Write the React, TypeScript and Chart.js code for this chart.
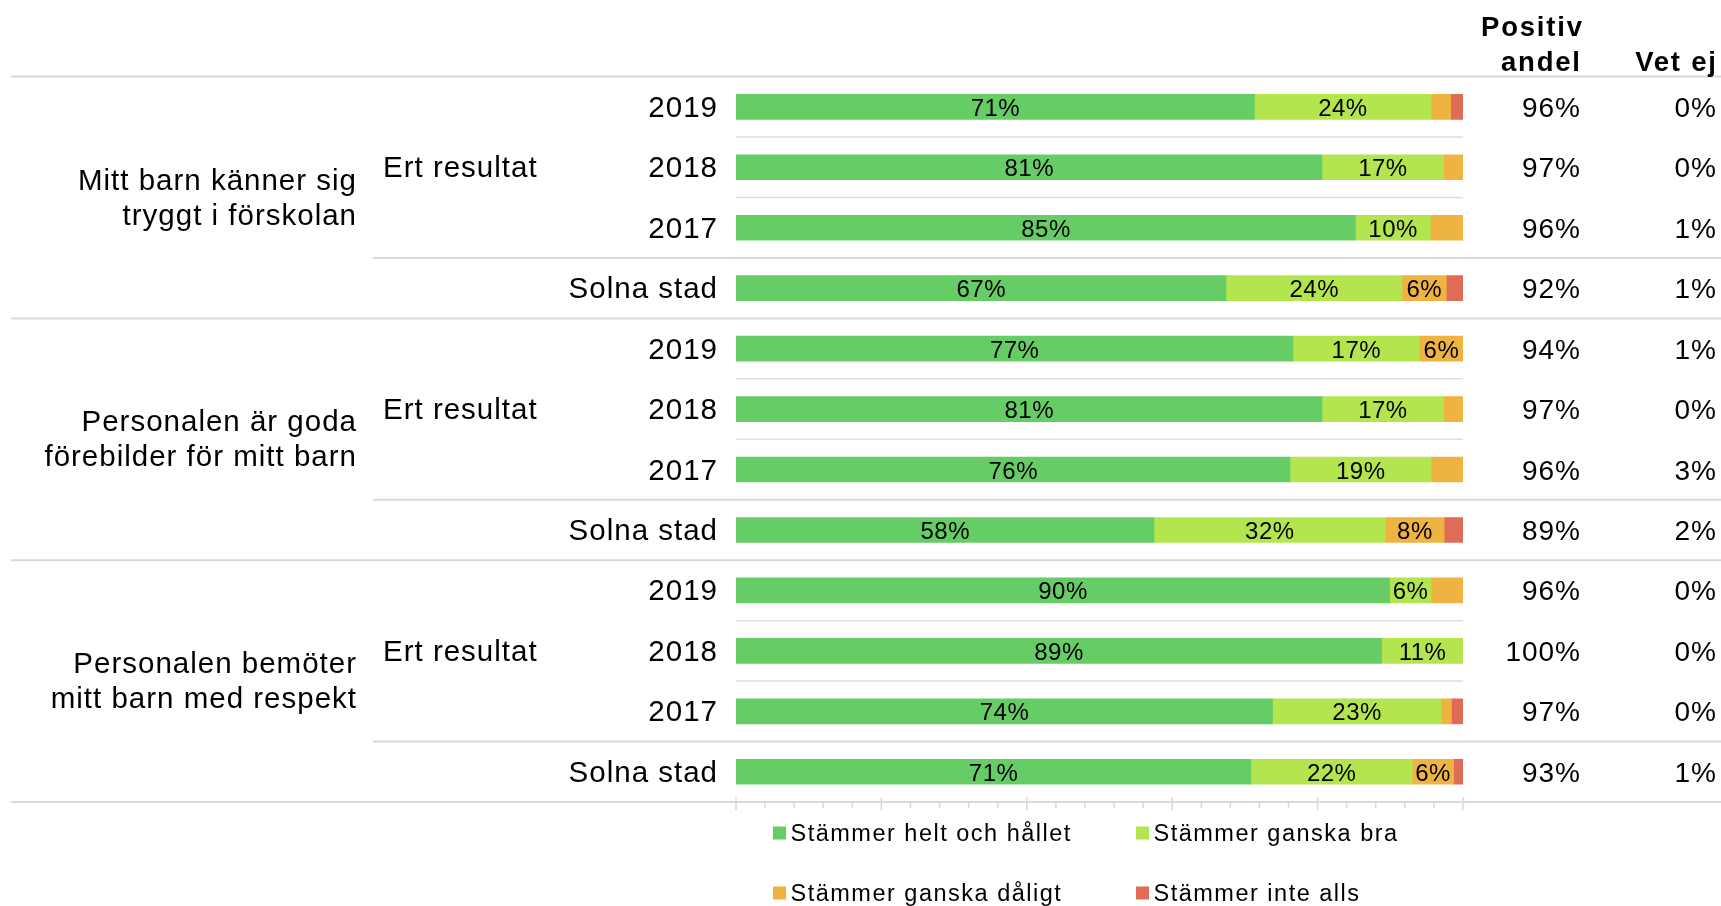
import React, { useEffect, useRef } from "react";
import { Chart, registerables } from "chart.js";

Chart.register(...registerables);

// ---------- data ----------
const rowLabels = [
  "2019", "2018", "2017", "Solna stad",
  "2019", "2018", "2017", "Solna stad",
  "2019", "2018", "2017", "Solna stad",
];
const groupLabels = [
  ["Mitt barn känner sig", "tryggt i förskolan"],
  ["Personalen är goda", "förebilder för mitt barn"],
  ["Personalen bemöter", "mitt barn med respekt"],
];
const subgroupLabel = "Ert resultat";
const seriesNames = [
  "Stämmer helt och hållet",
  "Stämmer ganska bra",
  "Stämmer ganska dåligt",
  "Stämmer inte alls",
];
const seriesColors = ["#66CC66", "#B3E64E", "#EFB342", "#E06C58"];

const heltOchHallet = [71.3, 80.6, 85.2, 67.4, 76.6, 80.6, 76.2, 57.5, 89.9, 88.8, 73.8, 70.8];
const ganskaBra = [24.3, 16.7, 10.3, 24.2, 17.4, 16.7, 19.4, 31.8, 5.7, 11.2, 23.2, 22.2];
const ganskaDaligt = [2.7, 2.7, 4.5, 6.1, 6.0, 2.7, 4.4, 8.1, 4.4, 0, 1.4, 5.7];
const inteAlls = [1.7, 0, 0, 2.3, 0, 0, 0, 2.6, 0, 0, 1.6, 1.3];

const positivAndel = ["96%", "97%", "96%", "92%", "94%", "97%", "96%", "89%", "96%", "100%", "97%", "93%"];
const vetEj = ["0%", "0%", "1%", "1%", "1%", "0%", "3%", "2%", "0%", "0%", "0%", "1%"];

const headerPositiv = ["Positiv", "andel"];
const headerVetEj = "Vet ej";
const xTickValues = Array.from({ length: 26 }, (_, i) => i * 4);

// ---------- helpers ----------
const FONT = '"Liberation Sans", Arial, Helvetica, sans-serif';

function drawText(
  ctx: CanvasRenderingContext2D,
  s: string,
  x: number,
  y: number,
  font: string,
  align: CanvasTextAlign,
  spacing: number,
  color = "#000"
) {
  ctx.save();
  ctx.font = font;
  ctx.textAlign = align;
  ctx.textBaseline = "alphabetic";
  ctx.fillStyle = color;
  (ctx as any).letterSpacing = spacing + "px";
  let dx = 0;
  if (align === "right") dx = spacing;
  else if (align === "center") dx = spacing / 2;
  ctx.fillText(s, x + dx, y);
  ctx.restore();
}

function hLine(ctx: CanvasRenderingContext2D, x1: number, x2: number, y: number, w: number, c: string) {
  ctx.save();
  ctx.strokeStyle = c;
  ctx.lineWidth = w;
  ctx.beginPath();
  ctx.moveTo(x1, y);
  ctx.lineTo(x2, y);
  ctx.stroke();
  ctx.restore();
}

const tablePlugin = {
  id: "tablePlugin",
  beforeDatasetsDraw(chart: any) {
    const ctx: CanvasRenderingContext2D = chart.ctx;
    const { top, bottom, left, right } = chart.chartArea;
    const y = chart.scales.y;
    const x = chart.scales.x;
    const W = chart.width;
    const n = rowLabels.length;
    const boundary = (k: number) => {
      if (k === 0) return top;
      if (k === n) return bottom;
      return (y.getPixelForValue(k - 1) + y.getPixelForValue(k)) / 2;
    };
    for (let k = 0; k <= n; k++) {
      const by = boundary(k);
      const m = k % 4;
      if (m === 0) hLine(ctx, 11, W, by, 2, "#D9D9D9");
      else if (m === 3) hLine(ctx, 373, W, by, 2, "#D9D9D9");
      else hLine(ctx, left, right, by, 1.5, "#DEDEDE");
    }
    // ticks
    xTickValues.forEach((v) => {
      const px = x.getPixelForValue(v);
      ctx.save();
      ctx.strokeStyle = "#D9D9D9";
      ctx.lineWidth = 1.5;
      ctx.beginPath();
      if (v % 20 === 0) {
        ctx.moveTo(px, bottom - 5);
        ctx.lineTo(px, bottom + 8);
      } else {
        ctx.moveTo(px, bottom + 1);
        ctx.lineTo(px, bottom + 6);
      }
      ctx.stroke();
      ctx.restore();
    });
  },
  afterDatasetsDraw(chart: any) {
    const ctx: CanvasRenderingContext2D = chart.ctx;
    const y = chart.scales.y;
    const n = rowLabels.length;
    const fLab = `29.5px ${FONT}`;
    const fVal = `28px ${FONT}`;
    // segment labels
    chart.data.datasets.forEach((ds: any, i: number) => {
      const meta = chart.getDatasetMeta(i);
      meta.data.forEach((el: any, j: number) => {
        const v = ds.data[j];
        if (v >= 5) {
          const cx = (el.x + el.base) / 2;
          drawText(ctx, Math.round(v) + "%", cx, el.y + 9, `24px ${FONT}`, "center", 0.5);
        }
      });
    });
    // row labels and value columns
    for (let j = 0; j < n; j++) {
      const yc = y.getPixelForValue(j);
      drawText(ctx, rowLabels[j], 717, yc + 10, fLab, "right", 1);
      drawText(ctx, positivAndel[j], 1580, yc + 10, fVal, "right", 1);
      drawText(ctx, vetEj[j], 1716, yc + 10, fVal, "right", 1);
    }
    // groups
    groupLabels.forEach((lines, g) => {
      const gc = (y.getPixelForValue(4 * g + 1) + y.getPixelForValue(4 * g + 2)) / 2;
      drawText(ctx, lines[0], 356, gc - 8, fLab, "right", 1);
      drawText(ctx, lines[1], 356, gc + 27, fLab, "right", 1);
      drawText(ctx, subgroupLabel, 383, y.getPixelForValue(4 * g + 1) + 10, fLab, "left", 1);
    });
    // headers
    const fb = `bold 27.5px ${FONT}`;
    drawText(ctx, headerPositiv[0], 1582, 36, fb, "right", 1.8);
    drawText(ctx, headerPositiv[1], 1580, 71, fb, "right", 1.8);
    drawText(ctx, headerVetEj, 1716, 71, fb, "right", 1.8);
    // legend
    const colX = [773, 1136];
    const rowBase = [841, 901];
    chart.data.datasets.forEach((ds: any, i: number) => {
      const sx = colX[i % 2];
      const by = rowBase[Math.floor(i / 2)];
      ctx.save();
      ctx.fillStyle = ds.backgroundColor;
      ctx.fillRect(sx, by - 14.5, 13, 13);
      ctx.restore();
      drawText(ctx, ds.label, sx + 17.5, by, `23.5px ${FONT}`, "left", 1.5);
    });
  },
};

export default function App() {
  const ref = useRef<HTMLCanvasElement | null>(null);
  useEffect(() => {
    document.body.style.overflow = "hidden";
    const canvas = ref.current;
    if (!canvas) return;
    const seriesData = [heltOchHallet, ganskaBra, ganskaDaligt, inteAlls];
    const chart = new Chart(canvas, {
      type: "bar",
      data: {
        labels: rowLabels,
        datasets: seriesData.map((d, i) => ({
          label: seriesNames[i],
          data: d,
          backgroundColor: seriesColors[i],
          borderWidth: 0,
          barThickness: 25,
        })),
      },
      options: {
        indexAxis: "y",
        responsive: false,
        animation: false,
        devicePixelRatio: 1,
        layout: { padding: { left: 736, right: 258, top: 76.6, bottom: 104 } },
        scales: {
          x: { stacked: true, min: 0, max: 100, display: false },
          y: { stacked: true, display: false },
        },
        plugins: {
          legend: { display: false },
          tooltip: { enabled: false },
        },
      },
      plugins: [tablePlugin],
    } as any);
    return () => chart.destroy();
  }, []);
  return (
    <div style={{ position: "absolute", left: 0, top: 0, width: 1721, height: 906, background: "#fff" }}>
      <canvas ref={ref} width={1721} height={906} style={{ display: "block" }} />
    </div>
  );
}
